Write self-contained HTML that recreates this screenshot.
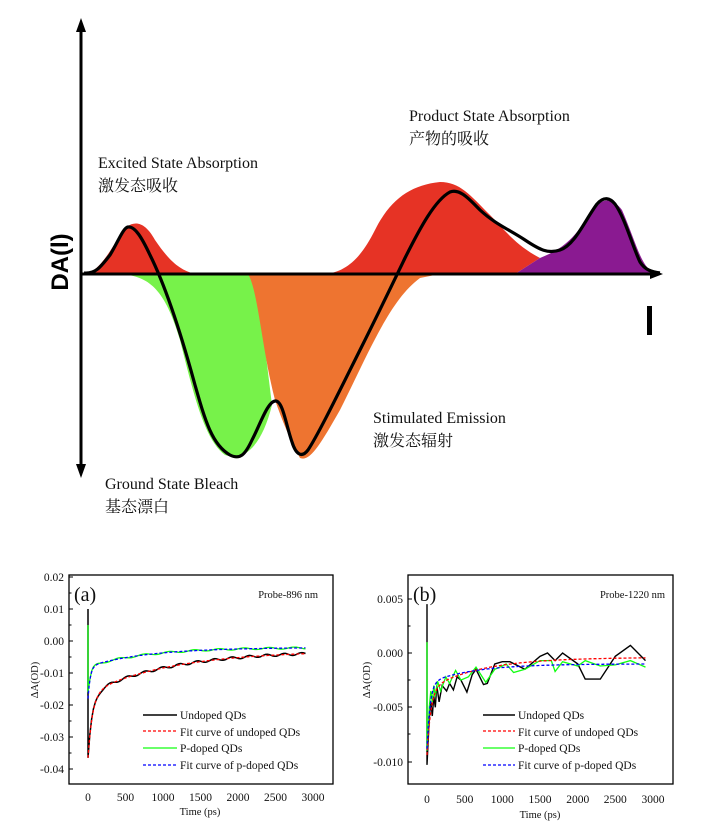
<!DOCTYPE html>
<html><head><meta charset="utf-8"><style>
body{margin:0;background:#fff}
svg{display:block}
.t{font-family:"Liberation Serif","Noto Serif CJK SC",serif;fill:#111}
</style></head><body>
<svg id="s" width="718" height="823" xmlns="http://www.w3.org/2000/svg">
<path d="M84,274 C100,272 110,250 125,228 C135,220 145,222 155,240 C170,262 180,270 195,274 Z" fill="#e63325"/>
<path d="M120,274 C150,276 165,290 180,340 C195,400 205,440 225,455 C245,462 262,445 272,405 C265,350 260,290 248,274 Z" fill="#77f24a"/>
<path d="M242,274 L248,274 C258,290 262,350 275,400 C282,420 290,440 300,458 C310,462 320,445 340,410 C370,350 390,300 420,278 L440,274 Z" fill="#ee7430"/>
<path d="M325,274 C345,272 360,260 375,230 C390,200 410,185 440,182 C460,182 470,195 490,215 C505,230 515,245 540,258 L515,274 Z" fill="#e63325"/>
<path d="M515,274 L540,258 C560,250 575,240 590,212 C600,198 612,196 622,210 C635,240 640,262 650,270 C655,273 660,274 662,274 Z" fill="#8a1a91"/>
<line x1="81" y1="28" x2="81" y2="468" stroke="#000" stroke-width="3"/>
<polygon points="81,18 76,32 86,32" fill="#000"/>
<polygon points="81,478 76,464 86,464" fill="#000"/>
<line x1="81" y1="274" x2="655" y2="274" stroke="#000" stroke-width="3"/>
<polygon points="663,274 650,269 650,279" fill="#000"/>
<path d="M84,273 C95,274 100,268 110,255 C118,242 123,228 128,227 C135,226 142,238 150,255 C165,285 180,330 195,385 C205,420 212,445 230,455 C240,460 245,455 252,440 C260,425 268,400 276,401 C283,402 286,425 292,442 C296,455 302,458 308,450 C318,435 340,390 360,350 C380,310 392,285 405,258 C420,228 435,200 450,192 C460,188 470,200 480,210 C495,224 510,230 525,240 C540,250 548,254 560,250 C575,245 585,220 597,204 C604,196 610,198 615,204 C625,218 632,245 640,262 C645,270 652,272 660,273" fill="none" stroke="#000" stroke-width="3.2"/>
<text x="0" y="0" transform="translate(68,262) rotate(-90)" text-anchor="middle" font-family="Liberation Sans,sans-serif" font-weight="bold" font-size="24">DA(l)</text>
<rect x="647" y="306" width="5" height="29" fill="#000"/>
<g font-family="'Liberation Serif','Noto Serif CJK SC',serif" font-size="16" fill="#111">
<text x="98" y="168">Excited State Absorption</text>
<text x="98" y="191">激发态吸收</text>
<text x="409" y="121">Product State Absorption</text>
<text x="409" y="144">产物的吸收</text>
<text x="373" y="423">Stimulated Emission</text>
<text x="373" y="446">激发态辐射</text>
<text x="105" y="489">Ground State Bleach</text>
<text x="105" y="512">基态漂白</text>
</g>
<rect x="69" y="575" width="264" height="209" fill="none" stroke="#000" stroke-width="1.3"/>
<g id="ga"></g>
<g class="t" font-size="11.5" text-anchor="end">
<text x="64" y="581">0.02</text><text x="64" y="613">0.01</text><text x="64" y="645">0.00</text>
<text x="64" y="677">-0.01</text><text x="64" y="709">-0.02</text><text x="64" y="741">-0.03</text><text x="64" y="773">-0.04</text>
</g>
<g class="t" font-size="11.5" text-anchor="middle">
<text x="88" y="801">0</text><text x="125.5" y="801">500</text><text x="163" y="801">1000</text><text x="200.5" y="801">1500</text>
<text x="238" y="801">2000</text><text x="275.5" y="801">2500</text><text x="313" y="801">3000</text>
<text x="200" y="815" font-size="10.5">Time (ps)</text>
</g>
<text class="t" transform="translate(38,680) rotate(-90)" text-anchor="middle" font-size="10.5">ΔA(OD)</text>
<text class="t" x="74" y="601" font-size="20">(a)</text>
<text class="t" x="318" y="598" font-size="10.5" text-anchor="end">Probe-896 nm</text>
<g class="t" font-size="11.5">
<text x="180" y="719">Undoped QDs</text><text x="180" y="736">Fit curve of undoped QDs</text>
<text x="180" y="752">P-doped QDs</text><text x="180" y="769">Fit curve of p-doped QDs</text>
<text x="518" y="719">Undoped QDs</text><text x="518" y="736">Fit curve of undoped QDs</text>
<text x="518" y="752">P-doped QDs</text><text x="518" y="769">Fit curve of p-doped QDs</text>
</g>
<line x1="143" y1="715" x2="177" y2="715" stroke="#000" stroke-width="1.5"/>
<line x1="143" y1="731" x2="177" y2="731" stroke="#f00" stroke-width="1.3" stroke-dasharray="3,2"/>
<line x1="143" y1="748" x2="177" y2="748" stroke="#1f1" stroke-width="1.3"/>
<line x1="143" y1="765" x2="177" y2="765" stroke="#00f" stroke-width="1.3" stroke-dasharray="3,2"/>
<rect x="408" y="575" width="265" height="209" fill="none" stroke="#000" stroke-width="1.3"/>
<g id="gb"></g>
<g class="t" font-size="11.5" text-anchor="end">
<text x="403" y="603">0.005</text><text x="403" y="657">0.000</text><text x="403" y="711">-0.005</text><text x="403" y="766">-0.010</text>
</g>
<g class="t" font-size="11.5" text-anchor="middle">
<text x="427" y="803">0</text><text x="464.7" y="803">500</text><text x="502.3" y="803">1000</text><text x="540" y="803">1500</text>
<text x="577.7" y="803">2000</text><text x="615.3" y="803">2500</text><text x="653" y="803">3000</text>
<text x="540" y="818" font-size="10.5">Time (ps)</text>
</g>
<text class="t" transform="translate(370,680) rotate(-90)" text-anchor="middle" font-size="10.5">ΔA(OD)</text>
<text class="t" x="413" y="601" font-size="20">(b)</text>
<text class="t" x="665" y="598" font-size="10.5" text-anchor="end">Probe-1220 nm</text>
<line x1="483" y1="715" x2="515" y2="715" stroke="#000" stroke-width="1.5"/>
<line x1="483" y1="731" x2="515" y2="731" stroke="#f00" stroke-width="1.3" stroke-dasharray="3,2"/>
<line x1="483" y1="748" x2="515" y2="748" stroke="#1f1" stroke-width="1.3"/>
<line x1="483" y1="765" x2="515" y2="765" stroke="#00f" stroke-width="1.3" stroke-dasharray="3,2"/>
</svg>
<script>
function P(g,pts,X,Y,col,dash,w){var d=pts.map(function(p,i){return (i?'L':'M')+X(p[0]).toFixed(1)+','+Y(p[1]).toFixed(1)}).join('');
var e=document.createElementNS('http://www.w3.org/2000/svg','path');e.setAttribute('d',d);e.setAttribute('fill','none');e.setAttribute('stroke',col);e.setAttribute('stroke-width',w||1.3);if(dash)e.setAttribute('stroke-dasharray','3,2');g.appendChild(e);}
function F(f,n){var a=[];for(var i=0;i<=n;i++){var t=i*2900/n;a.push([t,f(t)]);}return a;}
var XA=function(t){return 88+t*225/3000},YA=function(v){return 641-v*3200};
var ga=document.getElementById('ga');
var u=function(t){return -0.003-0.0135*Math.exp(-t/1100)-0.02*Math.exp(-t/60)};
var dp=function(t){return -0.002-0.006*Math.exp(-t/800)-0.01*Math.exp(-t/30)};
var un=[[0,0.01],[0,-0.0365]].concat(F(function(t){return u(t)+0.0004*Math.sin(t/37)},120).slice(1));
var pn=[[0,0.005],[0,-0.016]].concat(F(function(t){return dp(t)+0.0003*Math.sin(t/53)},120).slice(1));
P(ga,un,XA,YA,'#000',0,1.5);P(ga,F(u,200),XA,YA,'#f00',1);P(ga,pn,XA,YA,'#1f1',0);P(ga,F(dp,200),XA,YA,'#00f',1);
var XB=function(t){return 427+t*226/3000},YB=function(v){return 653-v*10860};
var gb=document.getElementById('gb');
var bu=[[0,0.0045],[0,-0.0103],[30,-0.006],[50,-0.0045],[70,-0.0058],[90,-0.004],[110,-0.005],[130,-0.003],[160,-0.0045],[200,-0.003],[260,-0.0035],[300,-0.0028],[350,-0.0034],[400,-0.0022],[450,-0.0025],[530,-0.0036],[600,-0.002],[650,-0.0015],[750,-0.0029],[800,-0.0028],[900,-0.001],[1000,-0.0008],[1100,-0.0008],[1300,-0.0015],[1500,-0.0003],[1600,0],[1700,-0.0007],[1800,0],[2000,-0.001],[2100,-0.0024],[2300,-0.0024],[2500,-0.0003],[2700,0.0007],[2900,-0.0007]];
var bp=[[0,0.001],[0,-0.009],[30,-0.005],[50,-0.0035],[70,-0.0045],[90,-0.003],[110,-0.004],[140,-0.0026],[180,-0.0035],[250,-0.0022],[300,-0.0028],[380,-0.0016],[450,-0.0025],[550,-0.0022],[650,-0.0013],[780,-0.0027],[900,-0.0015],[1000,-0.0012],[1050,-0.001],[1150,-0.0018],[1300,-0.0015],[1500,-0.0007],[1650,-0.0007],[1700,-0.0017],[1800,-0.0008],[2000,-0.0012],[2100,-0.0007],[2300,-0.0012],[2500,-0.0011],[2700,-0.0007],[2900,-0.0013]];
P(gb,bu,XB,YB,'#000',0,1.4);P(gb,bp,XB,YB,'#1f1',0);
P(gb,F(function(t){return -0.0004-0.003*Math.exp(-t/700)-0.006*Math.exp(-t/50)},200),XB,YB,'#f00',1);
P(gb,F(function(t){return -0.001-0.0018*Math.exp(-t/600)-0.006*Math.exp(-t/40)},200),XB,YB,'#00f',1);
function tk(g,x0,ys,inw){ys.forEach(function(y){var l=document.createElementNS('http://www.w3.org/2000/svg','line');l.setAttribute('x1',x0);l.setAttribute('x2',x0+inw);l.setAttribute('y1',y);l.setAttribute('y2',y);l.setAttribute('stroke','#000');g.appendChild(l);});}
tk(ga,69,[577,609,641,673,705,737,769],4);tk(ga,69,[593,625,657,689,721,753],2.5);
tk(gb,408,[599,653,707,762],4);tk(gb,408,[626,680,734],2.5);
</script>
</body></html>
